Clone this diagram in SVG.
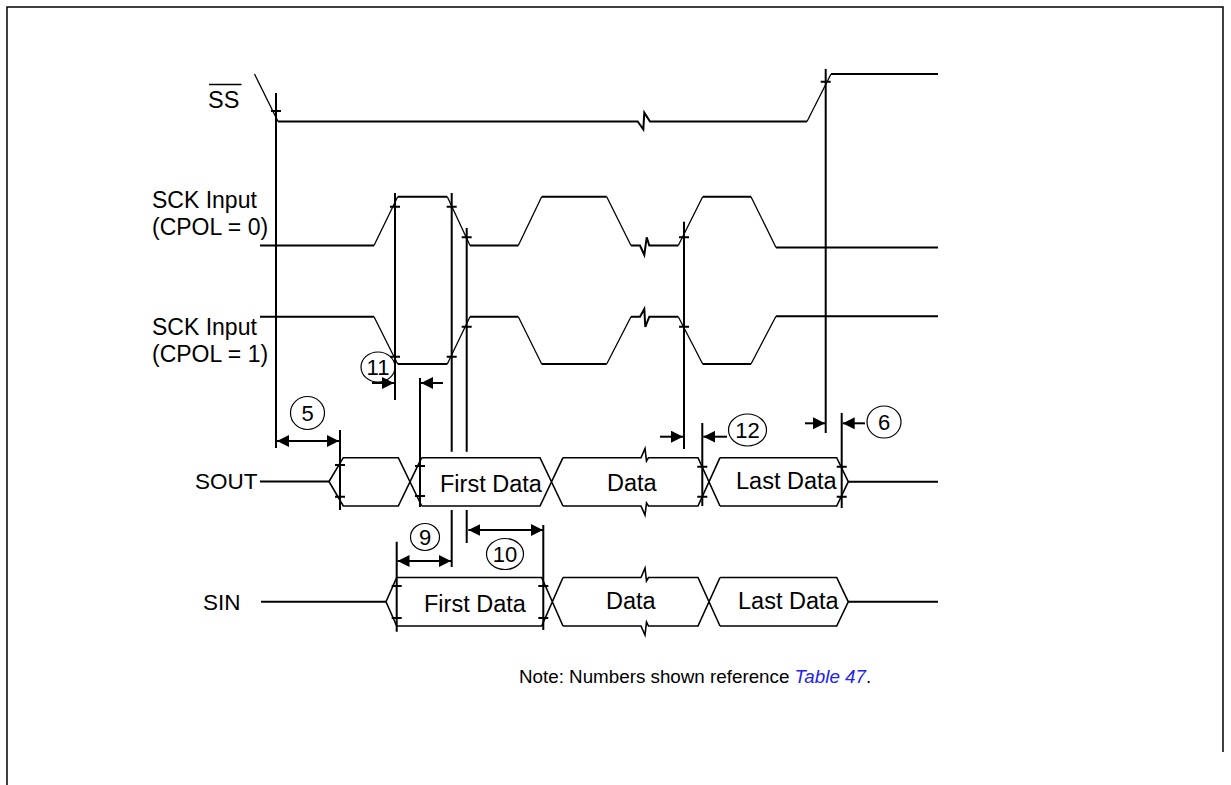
<svg xmlns="http://www.w3.org/2000/svg" width="1231" height="785" viewBox="0 0 1231 785">
<style>
.lv{stroke:#000;stroke-width:2;fill:none;stroke-linejoin:miter}
.tr{stroke:#000;stroke-width:1.3;fill:none}
.vl{stroke:#000;stroke-width:2;fill:none}
.bx{stroke:#000;stroke-width:1.6;fill:none}
.ar{stroke:#000;stroke-width:2;fill:none}
.ring{fill:none;stroke:#000;stroke-width:1.2}
text{font-family:"Liberation Sans",Arial,sans-serif;fill:#000}
.lbl{font-size:23.5px}
.sck{font-size:23px}
.sig{font-size:22.5px}
.num{font-size:22px;text-anchor:middle}
.note{font-size:18.8px}
</style>
<defs>
<marker id="ah" markerUnits="userSpaceOnUse" markerWidth="12" markerHeight="12" refX="12" refY="6" orient="auto-start-reverse">
<path d="M0,0 L12,6 L0,12 z" fill="#000"/>
</marker>
</defs>
<rect width="1231" height="785" fill="#fff"/>
<g id="frame">
<path d="M7,785 V7 H1223 V752" fill="none" stroke="#000" stroke-width="1.5"/>
</g>
<g id="labels">
<text class="lbl" x="208" y="108">SS</text>
<line x1="209" y1="84.5" x2="241.5" y2="84.5" stroke="#000" stroke-width="1.5"/>
<text class="sck" x="152" y="208">SCK Input</text>
<text class="sck" x="152" y="235">(CPOL = 0)</text>
<text class="sck" x="152" y="335">SCK Input</text>
<text class="sck" x="152" y="362">(CPOL = 1)</text>
<text class="sig" x="195" y="489">SOUT</text>
<text class="sig" x="203" y="610">SIN</text>
</g>
<g id="ss">
<path class="tr" d="M254.5,74 L278,121.5"/>
<path class="lv" d="M278,121.5 H637.7 L643.3,129.3 L644.3,112.7 L650,121.5 H807"/>
<path class="tr" d="M807,121.5 L831,74"/>
<path class="lv" d="M831,74 H938"/>
</g>
<g id="sck0">
<path class="lv" d="M260,245.5 H374 M397.7,196.7 H447.3 M470,245.5 H518.3 M541.7,196.7 H606.7 M631,245.5 H640 L644.3,255 L646.7,237.3 L649.3,245.5 H678.3 M702.7,196.7 H751 M776,247.5 H938"/>
<path class="tr" d="M374,245.5 L397.7,196.7 M447.3,196.7 L470,245.5 M518.3,245.5 L541.7,196.7 M606.7,196.7 L631,245.5 M678.3,245.5 L702.7,196.7 M751,196.7 L776,247.5"/>
</g>
<g id="sck1">
<path class="lv" d="M260,316.7 H374 M397.7,364 H447.3 M470,316.7 H518.3 M541.7,364 H606.7 M631,316.7 H640 L644.3,309 L645.3,327 L649.3,316.7 H678.3 M702.7,364 H751 M776,316.2 H938"/>
<path class="tr" d="M374,316.7 L397.7,364 M447.3,364 L470,316.7 M518.3,316.7 L541.7,364 M606.7,364 L631,316.7 M678.3,316.7 L702.7,364 M751,364 L776,316.2"/>
</g>
<g id="sout">
<path class="lv" d="M260,481.5 H329"/>
<path class="bx" d="M329,481.5 L343.3,457.7 H398.3 L421.7,506 M329,481.5 L343.3,506 H398.3 L421.7,457.7"/>
<path class="bx" d="M421.7,457.7 H540 L563,506 M421.7,506 H540 L563,457.7"/>
<path class="bx" d="M563,457.7 H641 L645,448.5 L646.5,461 L648.5,457.7 H698 L720,506 M563,506 H641 L645,515 L646.5,503 L648.5,506 H698 L720,457.7"/>
<path class="bx" d="M720,457.7 H836.7 L848.3,481.7 L836.7,506 H720"/>
<path class="lv" d="M848.3,481.7 H938"/>
<text class="lbl" x="440" y="492">First Data</text>
<text class="lbl" x="607" y="491">Data</text>
<text class="lbl" x="736" y="489">Last Data</text>
</g>
<g id="sin">
<path class="lv" d="M261,601.8 H386"/>
<path class="bx" d="M386,601.8 L396.7,577.5 H541.7 L563,626 M386,601.8 L396.7,626 H541.7 L563,577.5"/>
<path class="bx" d="M563,577.5 H641 L645,568 L646.5,581 L648.5,577.5 H698 L720,626 M563,626 H641 L645,635 L646.5,622 L648.5,626 H698 L720,577.5"/>
<path class="bx" d="M720,577.5 H836.7 L848.3,601.8 L836.7,626 H720"/>
<path class="lv" d="M848.3,601.8 H938"/>
<text class="lbl" x="424" y="612">First Data</text>
<text class="lbl" x="606" y="609">Data</text>
<text class="lbl" x="738" y="609">Last Data</text>
</g>
<g id="timing-lines" class="vl">
<path d="M276,93 V448 M395,193 V400 M451.7,193 V451.7 M451.7,510 V567 M466.7,228 V451.7 M466.7,510 V543 M420,378 V507 M340,430 V510 M684,221.7 V449 M702.3,423 V506 M825.7,69 V433 M841.7,413 V508 M396.7,541.7 V631.7 M543.3,525 V630"/>
<path d="M271,111 H281 M820.7,81.7 H830.7 M390,206.7 H400 M390,356.7 H400 M446.7,206.7 H456.7 M446.7,356.7 H456.7 M461.7,237.3 H471.7 M461.7,326.7 H471.7 M679,237.3 H689 M679,326.7 H689 M415,466 H425 M415,496 H425 M335,465 H345 M335,496.7 H345 M697.3,466.7 H707.3 M697.3,496.7 H707.3 M836.7,466.7 H846.7 M836.7,496.7 H846.7 M391.7,586 H401.7 M391.7,618 H401.7 M538.3,586 H548.3 M538.3,618 H548.3"/>
</g>
<g id="connectors" class="ar">
<path d="M277,441 H339" marker-start="url(#ah)" marker-end="url(#ah)"/>
<path d="M372,383 H394" marker-end="url(#ah)"/>
<path d="M443,383 H421" marker-end="url(#ah)"/>
<path d="M660,436.7 H683" marker-end="url(#ah)"/>
<path d="M727,436.7 H703.3" marker-end="url(#ah)"/>
<path d="M805,423.3 H825" marker-end="url(#ah)"/>
<path d="M865,423.3 H842.7" marker-end="url(#ah)"/>
<path d="M397.5,561 H451" marker-start="url(#ah)" marker-end="url(#ah)"/>
<path d="M468.3,530 H543" marker-start="url(#ah)" marker-end="url(#ah)"/>
</g>
<g id="m5"><ellipse class="ring" cx="307.5" cy="413" rx="17" ry="16.5"/><text class="num" x="307.5" y="421">5</text></g>
<g id="m11"><ellipse class="ring" cx="378" cy="367" rx="17" ry="15"/><text class="num" x="378" y="375">11</text></g>
<g id="m9"><ellipse class="ring" cx="425" cy="537" rx="14.5" ry="13.5"/><text class="num" x="425" y="545">9</text></g>
<g id="m10"><ellipse class="ring" cx="505" cy="554" rx="18.5" ry="15.5"/><text class="num" x="505" y="562">10</text></g>
<g id="m12"><ellipse class="ring" cx="747.5" cy="430" rx="19" ry="16"/><text class="num" x="747.5" y="438">12</text></g>
<g id="m6"><ellipse class="ring" cx="884" cy="422" rx="17" ry="16"/><text class="num" x="884" y="430">6</text></g>
<g id="note">
<text class="note" x="519" y="683">Note: Numbers shown reference <tspan fill="#2222ee" font-style="italic">Table 47</tspan>.</text>
</g>
</svg>
